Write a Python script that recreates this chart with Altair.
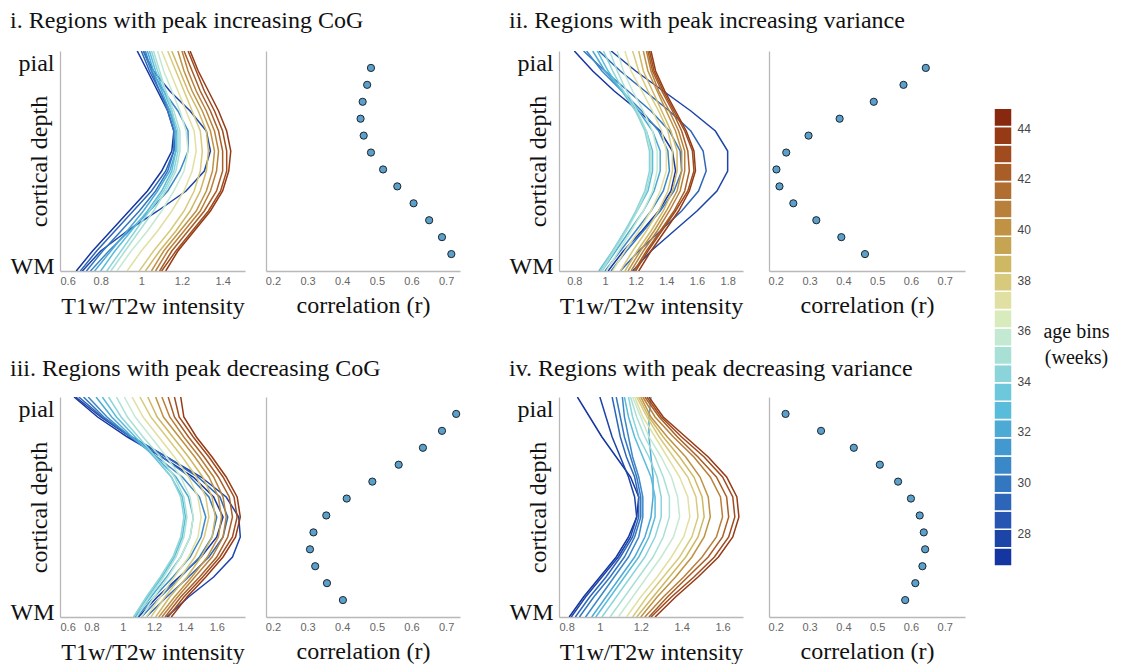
import altair as alt
import pandas as pd

SERIF = "Liberation Serif"
SANS = "Liberation Sans"

# ---------------- data ----------------
AGES = [27, 28, 29, 30, 31, 32, 33, 34, 35, 36, 37, 38, 39, 40, 41, 42, 43, 44]
DEPTH = [0, 1, 2, 3, 4, 5, 6, 7, 8, 9, 10, 11]  # 0 = WM ... 11 = pial

# profiles (WM -> pial), one list per age bin
profile_i = [
    [0.68, 0.76, 0.85, 0.94, 1.03, 1.10, 1.15, 1.16, 1.13, 1.08, 1.03, 0.98],
    [0.71, 0.80, 0.93, 1.08, 1.22, 1.31, 1.34, 1.32, 1.24, 1.14, 1.06, 1.01],
    [0.70, 0.78, 0.87, 0.96, 1.05, 1.12, 1.16, 1.17, 1.14, 1.09, 1.04, 1.00],
    [0.73, 0.81, 0.90, 0.99, 1.07, 1.13, 1.16, 1.16, 1.13, 1.09, 1.05, 1.01],
    [0.75, 0.84, 0.94, 1.04, 1.13, 1.19, 1.23, 1.23, 1.18, 1.11, 1.05, 1.02],
    [0.77, 0.85, 0.93, 1.01, 1.08, 1.14, 1.17, 1.17, 1.14, 1.10, 1.06, 1.03],
    [0.80, 0.87, 0.95, 1.03, 1.10, 1.15, 1.17, 1.17, 1.15, 1.11, 1.07, 1.04],
    [0.83, 0.90, 0.97, 1.04, 1.11, 1.16, 1.18, 1.18, 1.15, 1.12, 1.08, 1.05],
    [0.85, 0.92, 0.99, 1.06, 1.12, 1.17, 1.19, 1.19, 1.16, 1.12, 1.09, 1.06],
    [0.88, 0.95, 1.03, 1.10, 1.16, 1.21, 1.23, 1.22, 1.19, 1.15, 1.11, 1.08],
    [0.93, 1.00, 1.08, 1.15, 1.21, 1.25, 1.27, 1.26, 1.22, 1.18, 1.14, 1.10],
    [0.99, 1.06, 1.14, 1.21, 1.26, 1.29, 1.30, 1.29, 1.25, 1.21, 1.17, 1.13],
    [1.02, 1.09, 1.17, 1.24, 1.29, 1.32, 1.33, 1.32, 1.28, 1.23, 1.19, 1.15],
    [1.05, 1.11, 1.19, 1.27, 1.32, 1.35, 1.36, 1.34, 1.30, 1.25, 1.21, 1.18],
    [1.07, 1.13, 1.21, 1.29, 1.34, 1.37, 1.38, 1.36, 1.32, 1.27, 1.23, 1.20],
    [1.09, 1.15, 1.23, 1.31, 1.37, 1.40, 1.40, 1.38, 1.34, 1.29, 1.25, 1.21],
    [1.10, 1.17, 1.25, 1.33, 1.39, 1.42, 1.42, 1.40, 1.36, 1.31, 1.27, 1.23],
    [1.12, 1.18, 1.26, 1.34, 1.40, 1.43, 1.44, 1.42, 1.38, 1.33, 1.28, 1.24],
]
profile_ii = [
    [1.02, 1.12, 1.24, 1.35, 1.43, 1.46, 1.44, 1.36, 1.22, 1.06, 0.92, 0.80],
    [1.18, 1.30, 1.45, 1.60, 1.73, 1.80, 1.80, 1.72, 1.56, 1.38, 1.20, 1.04],
    [1.10, 1.22, 1.36, 1.50, 1.61, 1.66, 1.64, 1.56, 1.42, 1.26, 1.10, 0.96],
    [1.04, 1.14, 1.25, 1.36, 1.45, 1.50, 1.49, 1.42, 1.30, 1.15, 1.00, 0.86],
    [1.00, 1.10, 1.20, 1.30, 1.38, 1.42, 1.41, 1.35, 1.24, 1.11, 0.98, 0.88],
    [0.98, 1.07, 1.16, 1.25, 1.32, 1.36, 1.36, 1.31, 1.22, 1.11, 1.00, 0.92],
    [0.96, 1.05, 1.13, 1.21, 1.28, 1.31, 1.31, 1.27, 1.20, 1.11, 1.02, 0.95],
    [0.97, 1.05, 1.13, 1.20, 1.26, 1.29, 1.29, 1.26, 1.20, 1.12, 1.05, 0.99],
    [0.98, 1.06, 1.14, 1.21, 1.27, 1.30, 1.30, 1.27, 1.21, 1.14, 1.08, 1.03],
    [1.01, 1.09, 1.17, 1.25, 1.31, 1.34, 1.34, 1.31, 1.25, 1.18, 1.12, 1.08],
    [1.05, 1.13, 1.22, 1.30, 1.36, 1.40, 1.40, 1.37, 1.31, 1.24, 1.17, 1.13],
    [1.10, 1.18, 1.27, 1.35, 1.41, 1.44, 1.44, 1.41, 1.35, 1.28, 1.22, 1.18],
    [1.13, 1.21, 1.30, 1.38, 1.44, 1.47, 1.47, 1.43, 1.37, 1.31, 1.25, 1.22],
    [1.15, 1.23, 1.32, 1.40, 1.47, 1.50, 1.50, 1.46, 1.40, 1.34, 1.28, 1.25],
    [1.17, 1.25, 1.34, 1.42, 1.49, 1.52, 1.52, 1.48, 1.42, 1.35, 1.30, 1.27],
    [1.19, 1.27, 1.36, 1.45, 1.52, 1.55, 1.54, 1.50, 1.44, 1.37, 1.31, 1.28],
    [1.20, 1.28, 1.37, 1.46, 1.54, 1.58, 1.57, 1.52, 1.45, 1.38, 1.32, 1.29],
    [1.22, 1.30, 1.39, 1.48, 1.55, 1.59, 1.58, 1.53, 1.46, 1.39, 1.33, 1.30],
]
profile_iii = [
    [1.10, 1.22, 1.36, 1.50, 1.60, 1.64, 1.58, 1.45, 1.25, 1.03, 0.84, 0.69],
    [1.28, 1.42, 1.58, 1.70, 1.75, 1.74, 1.66, 1.50, 1.28, 1.05, 0.86, 0.70],
    [1.15, 1.28, 1.42, 1.55, 1.64, 1.67, 1.62, 1.48, 1.28, 1.06, 0.87, 0.72],
    [1.12, 1.24, 1.37, 1.49, 1.57, 1.60, 1.55, 1.43, 1.25, 1.05, 0.88, 0.75],
    [1.09, 1.20, 1.32, 1.43, 1.50, 1.53, 1.49, 1.38, 1.22, 1.05, 0.90, 0.78],
    [1.08, 1.18, 1.28, 1.37, 1.43, 1.45, 1.42, 1.34, 1.21, 1.06, 0.93, 0.83],
    [1.07, 1.16, 1.25, 1.33, 1.38, 1.40, 1.38, 1.31, 1.20, 1.08, 0.96, 0.87],
    [1.07, 1.15, 1.24, 1.32, 1.37, 1.39, 1.37, 1.31, 1.21, 1.10, 0.99, 0.91],
    [1.09, 1.17, 1.26, 1.34, 1.39, 1.41, 1.39, 1.33, 1.24, 1.13, 1.03, 0.96],
    [1.12, 1.20, 1.29, 1.37, 1.43, 1.45, 1.43, 1.37, 1.28, 1.18, 1.08, 1.01],
    [1.15, 1.24, 1.33, 1.42, 1.48, 1.50, 1.48, 1.42, 1.33, 1.23, 1.13, 1.06],
    [1.18, 1.27, 1.37, 1.46, 1.52, 1.55, 1.53, 1.47, 1.38, 1.28, 1.18, 1.11],
    [1.21, 1.30, 1.41, 1.50, 1.57, 1.59, 1.57, 1.51, 1.42, 1.32, 1.22, 1.16],
    [1.23, 1.33, 1.44, 1.54, 1.61, 1.63, 1.61, 1.55, 1.46, 1.36, 1.26, 1.21],
    [1.25, 1.35, 1.46, 1.57, 1.64, 1.66, 1.64, 1.58, 1.49, 1.39, 1.30, 1.25],
    [1.27, 1.37, 1.49, 1.60, 1.67, 1.70, 1.68, 1.61, 1.52, 1.42, 1.33, 1.29],
    [1.29, 1.39, 1.51, 1.62, 1.70, 1.73, 1.71, 1.64, 1.55, 1.45, 1.36, 1.33],
    [1.31, 1.41, 1.53, 1.64, 1.72, 1.75, 1.73, 1.66, 1.57, 1.47, 1.39, 1.37],
]
profile_iv = [
    [0.85, 0.92, 1.00, 1.08, 1.14, 1.18, 1.19, 1.15, 1.08, 1.01, 0.95, 0.89],
    [0.86, 0.93, 1.01, 1.09, 1.15, 1.18, 1.17, 1.14, 1.10, 1.06, 1.03, 1.00],
    [0.88, 0.95, 1.03, 1.10, 1.16, 1.19, 1.19, 1.17, 1.13, 1.10, 1.08, 1.06],
    [0.90, 0.97, 1.05, 1.12, 1.17, 1.20, 1.20, 1.18, 1.15, 1.12, 1.10, 1.08],
    [0.93, 1.00, 1.07, 1.14, 1.19, 1.21, 1.21, 1.19, 1.16, 1.14, 1.12, 1.11],
    [0.96, 1.03, 1.10, 1.17, 1.22, 1.25, 1.26, 1.26, 1.25, 1.24, 1.24, 1.25],
    [0.98, 1.05, 1.12, 1.19, 1.24, 1.27, 1.27, 1.25, 1.21, 1.17, 1.14, 1.12],
    [1.01, 1.08, 1.15, 1.22, 1.27, 1.30, 1.30, 1.28, 1.24, 1.19, 1.16, 1.14],
    [1.05, 1.12, 1.19, 1.26, 1.31, 1.34, 1.34, 1.31, 1.27, 1.22, 1.18, 1.15],
    [1.09, 1.16, 1.23, 1.30, 1.36, 1.39, 1.38, 1.35, 1.30, 1.24, 1.20, 1.16],
    [1.13, 1.20, 1.28, 1.35, 1.41, 1.44, 1.43, 1.39, 1.33, 1.27, 1.21, 1.17],
    [1.16, 1.23, 1.31, 1.39, 1.45, 1.48, 1.47, 1.43, 1.36, 1.29, 1.23, 1.18],
    [1.18, 1.26, 1.34, 1.42, 1.48, 1.51, 1.50, 1.46, 1.39, 1.31, 1.24, 1.19],
    [1.20, 1.28, 1.37, 1.45, 1.51, 1.54, 1.53, 1.49, 1.42, 1.33, 1.25, 1.20],
    [1.22, 1.31, 1.41, 1.50, 1.57, 1.60, 1.59, 1.54, 1.46, 1.36, 1.27, 1.21],
    [1.24, 1.33, 1.43, 1.53, 1.60, 1.63, 1.62, 1.57, 1.48, 1.38, 1.29, 1.22],
    [1.25, 1.35, 1.46, 1.56, 1.63, 1.66, 1.65, 1.60, 1.51, 1.40, 1.30, 1.23],
    [1.27, 1.37, 1.48, 1.58, 1.65, 1.68, 1.67, 1.62, 1.53, 1.42, 1.31, 1.24],
]

# correlations, listed from pial (top) to WM (bottom)
corr_i = [0.483, 0.472, 0.459, 0.453, 0.462, 0.483, 0.518, 0.559, 0.606, 0.651, 0.688, 0.715]
corr_ii = [0.644, 0.578, 0.490, 0.389, 0.297, 0.231, 0.202, 0.211, 0.252, 0.320, 0.394, 0.464]
corr_iii = [0.729, 0.688, 0.633, 0.563, 0.487, 0.413, 0.354, 0.317, 0.307, 0.322, 0.356, 0.402]
corr_iv = [0.229, 0.334, 0.431, 0.508, 0.562, 0.600, 0.626, 0.638, 0.642, 0.634, 0.613, 0.583]

# colour bar (age bins, lowest first)
CB_LO = 26.7
CB_STEP = 0.724
cbar_colors = [
    "#1535a0", "#1d45a8", "#2656b2", "#2d66b9", "#3477c1", "#3b88c8", "#4398cf",
    "#4caad5", "#5abcdb", "#6ec8dc", "#8bd5da", "#a8e0d6", "#c4e9d2", "#d8ebbc",
    "#e0e0a2", "#d8ca7c", "#cfb864", "#c7a452", "#bf9244", "#b8803a", "#b06e30",
    "#a85e26", "#a04c1e", "#963a16", "#88280f",
]
cbar_ticks = [28, 30, 32, 34, 36, 38, 40, 42, 44]

titles = [
    "i. Regions with peak increasing CoG",
    "ii. Regions with peak increasing variance",
    "iii. Regions with peak decreasing CoG",
    "iv. Regions with peak decreasing variance",
]


def color_for(age):
    idx = int((age - CB_LO) / CB_STEP)
    return cbar_colors[max(0, min(len(cbar_colors) - 1, idx))]


AX_GRAY = "#b8b8b8"


def profile_chart(profiles, xdom, xticks, width, title, title_offset):
    rows = []
    for age, vals in zip(AGES, profiles):
        for d, v in zip(DEPTH, vals):
            rows.append({"age": age, "depth": d, "v": v, "col": color_for(age)})
    df = pd.DataFrame(rows)
    return alt.Chart(df).mark_line(strokeWidth=1.5, clip=True).encode(
        x=alt.X("v:Q", scale=alt.Scale(domain=xdom, nice=False, zero=False),
                axis=alt.Axis(values=xticks, format="~g", title="T1w/T2w intensity",
                              grid=False, ticks=False, domainColor=AX_GRAY, domainWidth=1.3,
                              labelFont=SANS, labelFontSize=11, labelColor="#666666", labelPadding=4,
                              titleFont=SERIF, titleFontSize=24, titleFontWeight="normal",
                              titleColor="#111111", titleY=42, titleBaseline="alphabetic")),
        y=alt.Y("depth:Q", scale=alt.Scale(domain=[0, 11], nice=False, zero=False),
                axis=alt.Axis(values=[0, 11],
                              labelExpr="datum.value < 1 ? 'WM' : 'pial'",
                              labelBaseline=alt.condition("datum.value < 1",
                                                          alt.value("alphabetic"),
                                                          alt.value("top")),
                              labelOffset=alt.condition("datum.value < 1",
                                                        alt.value(2), alt.value(0)),
                              grid=False, ticks=False, domainColor=AX_GRAY,
                              domainWidth=1.3, labelFont=SERIF, labelFontSize=24,
                              labelColor="#111111", labelPadding=6,
                              title="cortical depth", titleFont=SERIF, titleFontSize=24,
                              titleFontWeight="normal", titleColor="#111111",
                              titleX=-14, titleY=110, titleBaseline="alphabetic",
                              titleAlign="center", titleAngle=270)),
        color=alt.Color("col:N", scale=None),
        detail="age:O",
        order="depth:Q",
    ).properties(
        width=width, height=220,
        title=alt.TitleParams(title, anchor="start", font=SERIF, fontSize=24,
                              fontWeight="normal", color="#111111",
                              frame="group", dx=-50, offset=title_offset),
    )


def scatter_chart(vals, xdom, width):
    df = pd.DataFrame({"r": vals, "depth": DEPTH[::-1]})
    return alt.Chart(df).mark_circle(size=52, color="#5ca0ca", stroke="#1b2631",
                                     strokeWidth=1, opacity=1).encode(
        x=alt.X("r:Q", scale=alt.Scale(domain=xdom, nice=False, zero=False),
                axis=alt.Axis(values=[0.2, 0.3, 0.4, 0.5, 0.6, 0.7], format=".1f",
                              title="correlation (r)", grid=False, ticks=False,
                              domainColor=AX_GRAY, domainWidth=1.3,
                              labelFont=SANS, labelFontSize=11, labelColor="#666666", labelPadding=4,
                              titleFont=SERIF, titleFontSize=24, titleFontWeight="normal",
                              titleColor="#111111", titleY=41, titleBaseline="alphabetic")),
        y=alt.Y("depth:Q", scale=alt.Scale(domain=[-1, 12], nice=False, zero=False),
                axis=alt.Axis(labels=False, ticks=False, grid=False, title=None,
                              domainColor=AX_GRAY, domainWidth=1.3)),
    ).properties(width=width, height=220)


def spacer(w):
    return alt.Chart(pd.DataFrame({"a": [0]})).mark_point(opacity=0).encode(
        x=alt.value(0), y=alt.value(0)
    ).properties(width=w, height=220)


cells = [
    profile_chart(profile_i, [0.6, 1.51], [0.6, 0.8, 1.0, 1.2, 1.4], 185, titles[0], 18),
    spacer(21),
    scatter_chart(corr_i, [0.18, 0.74], 194),
    spacer(99),
    profile_chart(profile_ii, [0.7, 1.9], [0.8, 1.0, 1.2, 1.4, 1.6, 1.8], 184, titles[1], 18),
    spacer(26),
    scatter_chart(corr_ii, [0.18, 0.76], 196),
    profile_chart(profile_iii, [0.6, 1.78], [0.6, 0.8, 1.0, 1.2, 1.4, 1.6], 185, titles[2], 16),
    spacer(21),
    scatter_chart(corr_iii, [0.18, 0.74], 194),
    spacer(99),
    profile_chart(profile_iv, [0.8, 1.70], [0.8, 1.0, 1.2, 1.4, 1.6], 184, titles[3], 16),
    spacer(26),
    scatter_chart(corr_iv, [0.18, 0.76], 196),
]

grid = alt.concat(*cells, columns=7, spacing={"row": 126, "column": 0}, bounds="flush")

CB_TOP = 47.06
cb_df = pd.DataFrame({
    "lo": [CB_LO + i * CB_STEP for i in range(len(cbar_colors))],
    "hi": [CB_LO + (i + 1) * CB_STEP for i in range(len(cbar_colors))],
    "col": cbar_colors,
})
cbar = alt.Chart(cb_df).mark_rect(stroke="white", strokeWidth=1.5).encode(
    x=alt.value(0), x2=alt.value(18),
    y=alt.Y("lo:Q", scale=alt.Scale(domain=[CB_LO, CB_TOP], nice=False, zero=False),
            axis=alt.Axis(orient="right", values=cbar_ticks, ticks=False, domain=False, grid=False,
                          labelFont=SANS, labelFontSize=12, labelColor="#444444", labelPadding=5,
                          title=["age bins", "(weeks)"], titleAngle=0, titleFont=SERIF,
                          titleFontSize=20, titleFontWeight="normal", titleColor="#111111",
                          titleX=64, titleY=286, titleAlign="center", titleBaseline="alphabetic",
                          titleLineHeight=26)),
    y2="hi:Q",
    color=alt.Color("col:N", scale=None),
).properties(width=18, height=515)

chart = alt.hconcat(grid, cbar, spacing=28).properties(
    padding={"left": 2, "top": 1, "right": 0, "bottom": 0}
).configure_view(strokeWidth=0)

chart.save("out.html", embed_options={"renderer": "svg", "actions": False})
